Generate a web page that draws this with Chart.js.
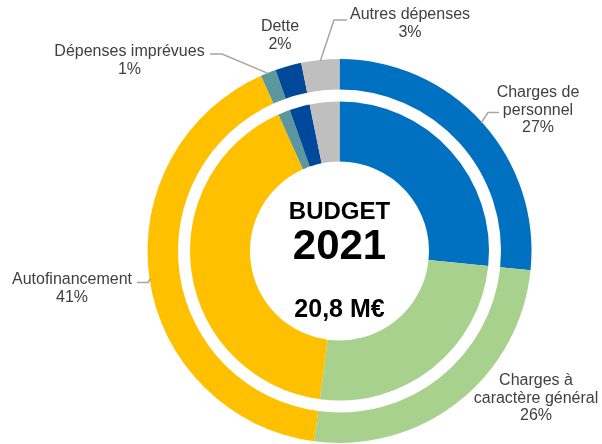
<!DOCTYPE html>
<html>
<head>
<meta charset="utf-8">
<script src="https://cdn.jsdelivr.net/npm/chart.js@4"></script>
<style>
  html, body { margin: 0; padding: 0; background: #fff; }
  #wrap { width: 602px; height: 444px; position: relative; }
</style>
</head>
<body>
<div id="wrap"><canvas id="budgetChart"></canvas></div>
<script>
// categories, clockwise from 12 o'clock
const categories = ['Charges de personnel', 'Charges à caractère général', 'Autofinancement',
                    'Dépenses imprévues', 'Dette', 'Autres dépenses'];
// slice sizes (%)
const shares = [26.6, 25.5, 41.2, 1.3, 2.2, 3.2];
// percentages printed on the labels
const pctLabels = ['27%', '26%', '41%', '1%', '2%', '3%'];
const labelLines = [['Charges de', 'personnel'], ['Charges à', 'caractère général'], ['Autofinancement'],
                    ['Dépenses imprévues'], ['Dette'], ['Autres dépenses']];
const colors = ['#0070C0', '#A9D18E', '#FFC000', '#5B979D', '#00499A', '#BFBFBF'];

const centerTitle = 'BUDGET';
const centerYear = '2021';
const centerTotal = '20,8 M€';

// label layout: text centre (first line) and leader polyline (elbow, end) or null
const labelLayout = [
    { x: 538, y: 93, leader: [[488, 112.5], [499, 112.5]] },
    { x: 536, y: 381, leader: null },
    { x: 72, y: 280, leader: [[148, 282.5], [137, 282.5]] },
    { x: 129.5, y: 52, leader: [[222, 54], [210, 54]] },
    { x: 280, y: 27, leader: null },
    { x: 410, y: 15, leader: [[334, 20], [347, 20]] }
];

const labelsPlugin = {
    id: 'budgetLabels',
    afterDatasetsDraw(chart) {
        const ctx = chart.ctx;
        const arcs = chart.getDatasetMeta(0).data;
        ctx.save();
        // leader lines
        ctx.strokeStyle = '#A6A6A6';
        ctx.lineWidth = 1.5;
        arcs.forEach((arc, i) => {
            const lay = labelLayout[i];
            if (!lay.leader) return;
            const p = arc.getProps(['x', 'y', 'startAngle', 'endAngle', 'outerRadius'], true);
            const mid = (p.startAngle + p.endAngle) / 2;
            const r = p.outerRadius - 1;
            ctx.beginPath();
            ctx.moveTo(p.x + Math.cos(mid) * r, p.y + Math.sin(mid) * r);
            lay.leader.forEach(pt => ctx.lineTo(pt[0], pt[1]));
            ctx.stroke();
        });
        // label texts
        ctx.fillStyle = '#404040';
        ctx.font = '16px "Liberation Sans", Arial, sans-serif';
        ctx.textAlign = 'center';
        ctx.textBaseline = 'middle';
        labelLines.forEach((lines, i) => {
            const lay = labelLayout[i];
            const all = lines.concat([pctLabels[i]]);
            all.forEach((t, k) => ctx.fillText(t, lay.x, lay.y + k * 17.5));
        });
        // centre text
        const cx = arcs[0].x, cy = arcs[0].y;
        ctx.fillStyle = '#000';
        ctx.font = 'bold 24px "Liberation Sans", Arial, sans-serif';
        ctx.fillText(centerTitle, cx, cy - 39);
        ctx.font = 'bold 42px "Liberation Sans", Arial, sans-serif';
        ctx.fillText(centerYear, cx, cy - 4);
        ctx.font = 'bold 25px "Liberation Sans", Arial, sans-serif';
        ctx.fillText(centerTotal, cx, cy + 59);
        ctx.restore();
    }
};

new Chart(document.getElementById('budgetChart'), {
    type: 'doughnut',
    data: {
        labels: categories,
        datasets: [
            { data: shares, backgroundColor: colors, borderWidth: 0, weight: 30.5 },
            // empty band between the two rings
            { data: shares, backgroundColor: 'rgba(0,0,0,0)', borderWidth: 0, weight: 12 },
            { data: shares, backgroundColor: colors, borderWidth: 0, weight: 60 }
        ]
    },
    options: {
        responsive: true,
        maintainAspectRatio: false,
        animation: false,
        cutout: 89.5,
        layout: { padding: { left: 147.5, right: 70.5, top: 59, bottom: 1 } },
        plugins: { legend: { display: false }, tooltip: { enabled: false } },
        events: []
    },
    plugins: [labelsPlugin]
});
</script>
</body>
</html>
